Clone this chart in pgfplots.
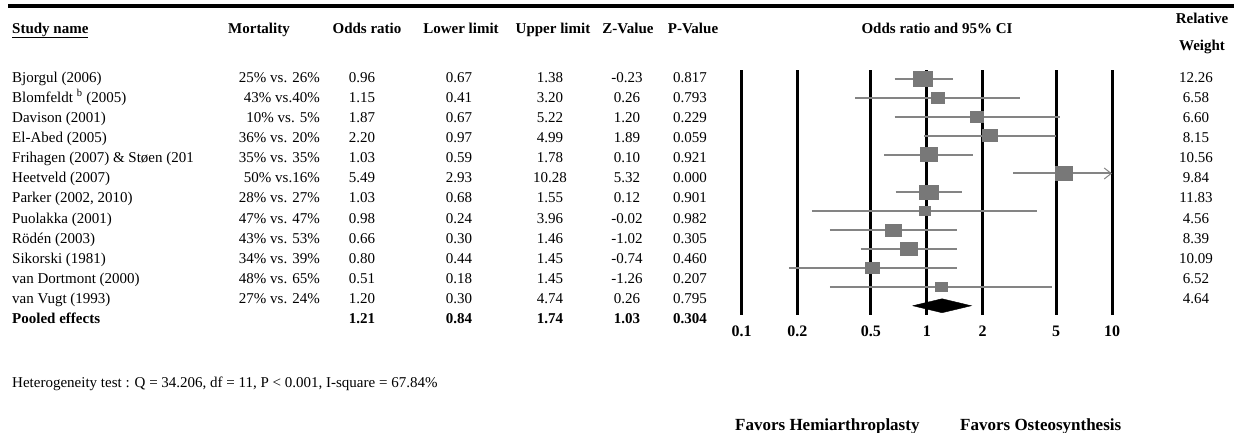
\documentclass[border=0pt]{standalone}
\usepackage{fontspec}
\setmainfont{Liberation Serif}
\usepackage{pgfplots}
\usepackage{pgfplotstable}
\pgfplotsset{compat=1.18}
\usetikzlibrary{arrows.meta}
\definecolor{cigray}{RGB}{132,132,132}
\definecolor{sqgray}{RGB}{120,120,120}
\pgfdeclareplotmark{wrect}{%
  \pgfpathrectangle{\pgfpoint{-1.15\pgfplotmarksize}{-0.92\pgfplotmarksize}}{\pgfpoint{2.3\pgfplotmarksize}{1.84\pgfplotmarksize}}%
  \pgfusepath{fill}}

\pgfplotstableread{
row or lo hi w
1 0.96 0.67 1.38 12.26
2 1.15 0.41 3.20 6.58
3 1.87 0.67 5.22 6.60
4 2.20 0.97 4.99 8.15
5 1.03 0.59 1.78 10.56
6 5.49 2.93 10.28 9.84
7 1.03 0.68 1.55 11.83
8 0.98 0.24 3.96 4.56
9 0.66 0.30 1.46 8.39
10 0.80 0.44 1.45 10.09
11 0.51 0.18 1.45 6.52
12 1.20 0.30 4.74 4.64
}\studies

\newcommand{\trow}[9]{%
  \pgfmathsetmacro{\yy}{82+20.15*(#1-1)}%
  \node[t, anchor=base west] at (12,\yy) {#2};
  \node[t, anchor=base east] at (320,\yy) {#3};
  \node[t, anchor=base] at (362,\yy) {#4};
  \node[t, anchor=base] at (459,\yy) {#5};
  \node[t, anchor=base] at (550,\yy) {#6};
  \node[t, anchor=base] at (627,\yy) {#7};
  \node[t, anchor=base] at (690,\yy) {#8};
  \node[t, anchor=base] at (1196,\yy) {#9};
}

\begin{document}
\begin{tikzpicture}[x=1pt,y=-1pt, t/.style={inner sep=0pt, font=\fontsize{15}{18}\selectfont}]
\path[use as bounding box] (0,0) rectangle (1234,432);

% top rule
\draw[line width=3.5pt, black] (8,6) -- (1234,6);

% headers
\node[t, anchor=base west] at (12,33) {\underline{\textbf{Study name}}};
\node[t, anchor=base] at (259,33) {\textbf{Mortality}};
\node[t, anchor=base] at (367,33) {\textbf{Odds ratio}};
\node[t, anchor=base] at (461,33) {\textbf{Lower limit}};
\node[t, anchor=base] at (553,33) {\textbf{Upper limit}};
\node[t, anchor=base] at (628,33) {\textbf{Z-Value}};
\node[t, anchor=base] at (693,33) {\textbf{P-Value}};
\node[t, anchor=base] at (937,33) {\textbf{Odds ratio and 95\% CI}};
\node[t, anchor=base] at (1202,23) {\textbf{Relative}};
\node[t, anchor=base] at (1202,50) {\textbf{Weight}};

\trow{1}{Bjorgul (2006)}{25\% vs. 26\%}{0.96}{0.67}{1.38}{-0.23}{0.817}{12.26}
\trow{2}{Blomfeldt \textsuperscript{b} (2005)}{43\% vs.40\%}{1.15}{0.41}{3.20}{0.26}{0.793}{6.58}
\trow{3}{Davison (2001)}{10\% vs. 5\%}{1.87}{0.67}{5.22}{1.20}{0.229}{6.60}
\trow{4}{El-Abed (2005)}{36\% vs. 20\%}{2.20}{0.97}{4.99}{1.89}{0.059}{8.15}
\trow{5}{Frihagen (2007) \& Støen (201}{35\% vs. 35\%}{1.03}{0.59}{1.78}{0.10}{0.921}{10.56}
\trow{6}{Heetveld (2007)}{50\% vs.16\%}{5.49}{2.93}{10.28}{5.32}{0.000}{9.84}
\trow{7}{Parker (2002, 2010)}{28\% vs. 27\%}{1.03}{0.68}{1.55}{0.12}{0.901}{11.83}
\trow{8}{Puolakka (2001)}{47\% vs. 47\%}{0.98}{0.24}{3.96}{-0.02}{0.982}{4.56}
\trow{9}{Rödén (2003)}{43\% vs. 53\%}{0.66}{0.30}{1.46}{-1.02}{0.305}{8.39}
\trow{10}{Sikorski (1981)}{34\% vs. 39\%}{0.80}{0.44}{1.45}{-0.74}{0.460}{10.09}
\trow{11}{van Dortmont (2000)}{48\% vs. 65\%}{0.51}{0.18}{1.45}{-1.26}{0.207}{6.52}
\trow{12}{van Vugt (1993)}{27\% vs. 24\%}{1.20}{0.30}{4.74}{0.26}{0.795}{4.64}
\trow{13}{\textbf{Pooled effects}}{}{\textbf{1.21}}{\textbf{0.84}}{\textbf{1.74}}{\textbf{1.03}}{\textbf{0.304}}{}

\node[t, anchor=base west] at (12,387) {Heterogeneity test : Q = 34.206, df = 11, P < 0.001, I-square = 67.84\%};
\node[t, anchor=base west, font=\fontsize{17}{20}\selectfont\bfseries] at (735,430) {Favors Hemiarthroplasty};
\node[t, anchor=base west, font=\fontsize{17}{20}\selectfont\bfseries] at (960,430) {Favors Osteosynthesis};

\begin{axis}[
  at={(741.5pt,-315pt)}, anchor=south west,
  scale only axis, width=370.5pt, height=245pt,
  xmode=log, log basis x=10, xmin=0.1, xmax=10,
  ymin=0.524, ymax=13.49, y dir=reverse,
  xtick={0.1,0.2,0.5,1,2,5,10},
  xticklabels={\textbf{0.1},\textbf{0.2},\textbf{0.5},\textbf{1},\textbf{2},\textbf{5},\textbf{10}},
  minor xtick={}, ytick=\empty,
  xmajorgrids, grid style={black, line width=3pt},
  axis line style={draw=none}, tick style={draw=none},
  major tick length=0pt, minor tick length=0pt,
  xticklabel style={font=\fontsize{16}{16}\selectfont, yshift=-7.5pt},
  clip=false, unbounded coords=jump,
]
\addplot[cigray, line width=2pt] table[x=x, y=y] {
x y
0.67 1
1.38 1
nan nan
0.41 2
3.20 2
nan nan
0.67 3
5.22 3
nan nan
0.97 4
4.99 4
nan nan
0.59 5
1.78 5
nan nan
0.68 7
1.55 7
nan nan
0.24 8
3.96 8
nan nan
0.30 9
1.46 9
nan nan
0.44 10
1.45 10
nan nan
0.18 11
1.45 11
nan nan
0.30 12
4.74 12
};
\addplot[cigray, line width=2pt, -{Straight Barb[length=7pt, width=11pt, line width=1pt]}] coordinates {(2.93,6) (10,6)};
\addplot[scatter, only marks, mark=wrect, point meta=\thisrow{w},
  scatter/use mapped color={draw=sqgray, fill=sqgray},
  visualization depends on={2.48*sqrt(\thisrow{w}) \as \ms},
  scatter/@pre marker code/.append style={/tikz/mark size=\ms}]
  table[x=or, y=row] \studies;
\addplot[fill=black, draw=black] coordinates {(0.84,13) (1.21,12.63) (1.74,13) (1.21,13.37) (0.84,13)};
\end{axis}
\end{tikzpicture}
\end{document}
